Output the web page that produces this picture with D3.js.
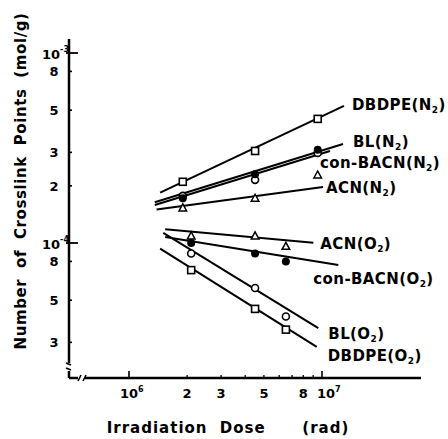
<!DOCTYPE html>
<html>
<head>
<meta charset="utf-8">
<script src="https://cdn.jsdelivr.net/npm/d3@7"></script>
<style>
  html, body { margin: 0; padding: 0; background: #fff; }
  svg { display: block; }
  text { font-family: "DejaVu Sans", sans-serif; font-weight: bold; fill: #000; }
</style>
</head>
<body>
<svg id="chart" width="448" height="439"></svg>
<script>
// ---------------- data ----------------
const doseN2 = [1.9e6, 4.5e6, 9.5e6];      // rad
const doseO2 = [2.1e6, 4.5e6, 6.5e6];      // rad

const dbdpeN2 = [2.1e-4, 3.05e-4, 4.5e-4];  // mol/g
const blN2    = [1.77e-4, 2.15e-4, 2.98e-4];
const bacnN2  = [1.72e-4, 2.3e-4, 3.1e-4];
const acnN2   = [1.53e-4, 1.72e-4, 2.28e-4];

const acnO2   = [1.09e-4, 1.09e-4, 9.6e-5];
const bacnO2  = [1.0e-4, 8.8e-5, 8.0e-5];
const blO2    = [8.8e-5, 5.8e-5, 4.1e-5];
const dbdpeO2 = [7.2e-5, 4.5e-5, 3.5e-5];

// fitted straight lines (start / end in data units)
const fitDbdpeN2 = [[1.45e6, 1.84e-4], [1.30e7, 5.27e-4]];
const fitBlN2    = [[1.36e6, 1.64e-4], [1.285e7, 3.32e-4]];
const fitBacnN2  = [[1.36e6, 1.585e-4], [1.10e7, 3.05e-4]];
const fitAcnN2   = [[1.39e6, 1.50e-4], [1.012e7, 1.97e-4]];
const fitAcnO2   = [[1.54e6, 1.18e-4], [9.02e6, 1.004e-4]];
const fitBacnO2  = [[1.54e6, 1.076e-4], [1.215e7, 7.66e-5]];
const fitBlO2    = [[1.505e6, 1.13e-4], [9.57e6, 3.56e-5]];
const fitDbdpeO2 = [[1.45e6, 9.33e-5], [9.39e6, 2.84e-5]];

const xTickMajor = [1e6, 1e7];
const xTickMinor = [2e6, 3e6, 4e6, 5e6, 6e6, 7e6, 8e6, 9e6];
const xMinorLabels = {2e6: "2", 3e6: "3", 5e6: "5", 8e6: "8"};
const yTickMajor = [1e-3, 1e-4];
const yTickMinor = [8e-4, 5e-4, 3e-4, 2e-4, 8e-5, 5e-5, 3e-5];
const yMinorLabels = ["8", "5", "3", "2", "8", "5", "3"];

const series = [
  {name: "DBDPE", gas: "N", x: doseN2, y: dbdpeN2, marker: "square", fit: fitDbdpeN2},
  {name: "BL", gas: "N", x: doseN2, y: blN2, marker: "circle", fit: fitBlN2},
  {name: "con-BACN", gas: "N", x: doseN2, y: bacnN2, marker: "dot", fit: fitBacnN2},
  {name: "ACN", gas: "N", x: doseN2, y: acnN2, marker: "triangle", fit: fitAcnN2},
  {name: "ACN", gas: "O", x: doseO2, y: acnO2, marker: "triangle", fit: fitAcnO2},
  {name: "con-BACN", gas: "O", x: doseO2, y: bacnO2, marker: "dot", fit: fitBacnO2},
  {name: "BL", gas: "O", x: doseO2, y: blO2, marker: "circle", fit: fitBlO2},
  {name: "DBDPE", gas: "O", x: doseO2, y: dbdpeO2, marker: "square", fit: fitDbdpeO2}
];

// ---------------- layout ----------------
const labelOffset = [[8, 4], [10, 3], [-10, 17], [3, 6], [7, 6], [-25, 19], [10, 11], [11, 14]];

const svg = d3.select("#chart");

const x = d3.scaleLog().domain([1e6, 1e7]).range([129, 322]);
x.domain([x.invert(69), x.invert(421)]).range([69, 421]);
const y = d3.scaleLog().domain([1e-3, 1e-4]).range([53, 243]);
y.domain([y.invert(39), y.invert(378)]).range([39, 378]);

const axisG = svg.append("g").attr("stroke", "#000").attr("fill", "none");
const x0 = x.range()[0], x1 = x.range()[1];
const yTop = y.range()[0], yBot = y.range()[1];

// y axis with break near the bottom
axisG.append("line").attr("x1", x0).attr("x2", x0).attr("y1", yTop).attr("y2", yBot - 15).attr("stroke-width", 2.5);
axisG.append("path").attr("d", `M${x0-3},${yBot-15} L${x0+2},${yBot-13} M${x0-3},${yBot-10} L${x0+2},${yBot-8}`).attr("stroke-width", 1.8);
axisG.append("line").attr("x1", x0).attr("x2", x0).attr("y1", yBot - 7).attr("y2", yBot).attr("stroke-width", 2.5);
// x axis with break near the left
axisG.append("line").attr("x1", x0).attr("x2", x0 + 9).attr("y1", yBot).attr("y2", yBot).attr("stroke-width", 2.5);
axisG.append("path").attr("d", `M${x0+9},${yBot+3} L${x0+12},${yBot-3} M${x0+14},${yBot+3} L${x0+17},${yBot-3}`).attr("stroke-width", 1.6);
axisG.append("line").attr("x1", x0 + 16).attr("x2", x1).attr("y1", yBot).attr("y2", yBot).attr("stroke-width", 2.5);

// ticks
xTickMajor.forEach(v => axisG.append("line").attr("x1", x(v)).attr("x2", x(v)).attr("y1", yBot).attr("y2", yBot - 7).attr("stroke-width", 1.6));
xTickMinor.forEach(v => axisG.append("line").attr("x1", x(v)).attr("x2", x(v)).attr("y1", yBot).attr("y2", yBot - 3).attr("stroke-width", 1.3));
yTickMajor.forEach(v => axisG.append("line").attr("x1", x0 - 3).attr("x2", x0 + 9).attr("y1", y(v)).attr("y2", y(v)).attr("stroke-width", 1.8));
yTickMinor.forEach(v => axisG.append("line").attr("x1", x0).attr("x2", x0 + 3).attr("y1", y(v)).attr("y2", y(v)).attr("stroke-width", 1.6));

// tick labels
const lab = svg.append("g");
const xl1 = lab.append("text").attr("x", x(1e6) - 9).attr("y", 398).attr("font-size", 13);
xl1.append("tspan").text("10");
xl1.append("tspan").attr("font-size", 8).attr("dy", -6).text("6");
const xl2 = lab.append("text").attr("x", x(1e7) - 5).attr("y", 398).attr("font-size", 13);
xl2.append("tspan").text("10");
xl2.append("tspan").attr("font-size", 8).attr("dy", -6).text("7");
Object.keys(xMinorLabels).forEach(k => {
  lab.append("text").attr("x", x(+k)).attr("y", 398).attr("font-size", 13).attr("text-anchor", "middle").text(xMinorLabels[k]);
});
yTickMajor.forEach((v, i) => {
  const t = lab.append("text").attr("x", 42).attr("y", y(v) + 6).attr("font-size", 13);
  t.append("tspan").text("10");
  t.append("tspan").attr("font-size", 8).attr("dy", -7).text(i === 0 ? "-3" : "-4");
});
yTickMinor.forEach((v, i) => {
  lab.append("text").attr("x", 54).attr("y", y(v) + 5).attr("font-size", 13).attr("text-anchor", "middle").text(yMinorLabels[i]);
});

// axis titles
svg.append("text").attr("x", 228).attr("y", 433).attr("font-size", 15).attr("text-anchor", "middle")
  .attr("font-weight", "normal").style("letter-spacing", "1px").style("word-spacing", "6px")
  .attr("xml:space", "preserve").text("Irradiation Dose   (rad)");
svg.append("text").attr("transform", "translate(26,181) rotate(-90)").attr("font-size", 15).attr("text-anchor", "middle")
  .style("letter-spacing", "0.6px").style("word-spacing", "5px").text("Number of Crosslink Points (mol/g)");

// fit lines
const line = d3.line().x(d => x(d[0])).y(d => y(d[1]));
const plot = svg.append("g");
series.forEach(s => {
  plot.append("path").attr("d", line(s.fit)).attr("fill", "none").attr("stroke", "#000").attr("stroke-width", 2);
});

// markers
series.forEach(s => {
  s.x.forEach((xv, i) => {
    const cx = x(xv), cy = y(s.y[i]);
    if (s.marker === "square") {
      plot.append("rect").attr("x", cx - 3.5).attr("y", cy - 3.5).attr("width", 7).attr("height", 7)
        .attr("fill", "#fff").attr("stroke", "#000").attr("stroke-width", 1.6);
    } else if (s.marker === "circle") {
      plot.append("circle").attr("cx", cx).attr("cy", cy).attr("r", 3.5)
        .attr("fill", "#fff").attr("stroke", "#000").attr("stroke-width", 1.6);
    } else if (s.marker === "dot") {
      plot.append("circle").attr("cx", cx).attr("cy", cy).attr("r", 4).attr("fill", "#000");
    } else {
      plot.append("path").attr("d", `M${cx},${cy-4} L${cx+3.8},${cy+3} L${cx-3.8},${cy+3} Z`)
        .attr("fill", "#fff").attr("stroke", "#000").attr("stroke-width", 1.5);
    }
  });
});

// series labels
series.forEach((s, i) => {
  const end = s.fit[1];
  const t = svg.append("text").attr("x", x(end[0]) + labelOffset[i][0]).attr("y", y(end[1]) + labelOffset[i][1])
    .attr("font-size", 15).style("letter-spacing", "0.4px");
  t.append("tspan").text(s.name + "(" + s.gas);
  t.append("tspan").attr("font-size", 9).attr("dy", 3).text("2");
  t.append("tspan").attr("dy", -3).text(")");
});
</script>
</body>
</html>
